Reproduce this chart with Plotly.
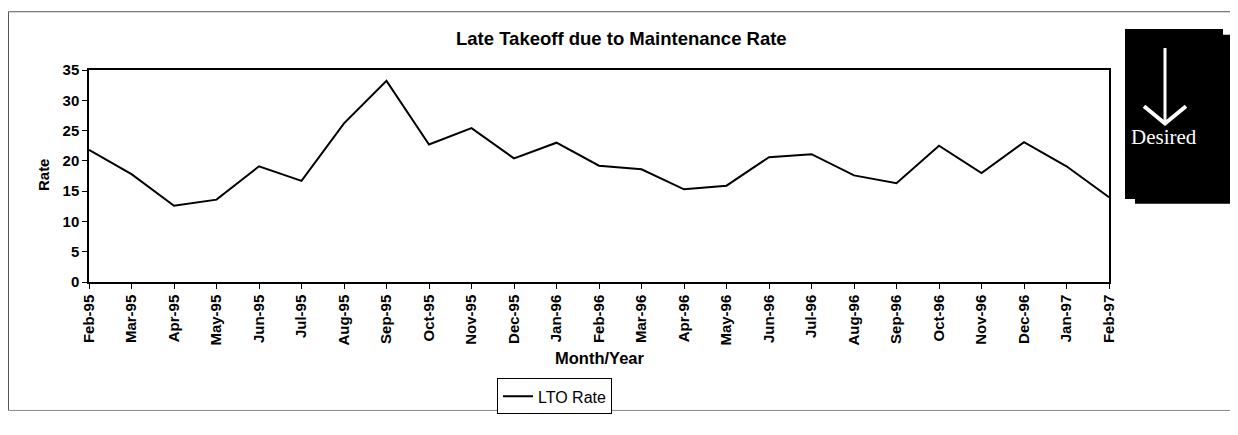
"""
Late Takeoff due to Maintenance Rate - line chart with a "Desired" direction marker.
"""
import plotly.graph_objects as go

months = [
    "Feb-95", "Mar-95", "Apr-95", "May-95", "Jun-95", "Jul-95", "Aug-95",
    "Sep-95", "Oct-95", "Nov-95", "Dec-95", "Jan-96", "Feb-96", "Mar-96",
    "Apr-96", "May-96", "Jun-96", "Jul-96", "Aug-96", "Sep-96", "Oct-96",
    "Nov-96", "Dec-96", "Jan-97", "Feb-97",
]
lto_rate = [
    21.8, 17.8, 12.6, 13.6, 19.1, 16.7, 26.2, 33.2, 22.7, 25.4, 20.4, 23.0,
    19.2, 18.6, 15.3, 15.9, 20.6, 21.1, 17.6, 16.3, 22.5, 18.0, 23.1, 19.1, 14.0,
]
y_ticks = [0, 5, 10, 15, 20, 25, 30, 35]

# the page body has an 8px margin on every side; keep the figure inside the window
OFF = 8
W, H = 1238 - 2 * OFF, 435 - 2 * OFF
# plot area in page pixels
L, R, T, B = 89, 1109, 70, 292


def px(x):
    # page pixel -> paper x
    return (x - L) / (R - L)


def py(y):
    # page pixel -> paper y
    return (B - y) / (B - T)


fig = go.Figure(
    go.Scatter(
        x=months,
        y=lto_rate,
        mode="lines",
        name="LTO Rate",
        line=dict(color="black", width=2),
    )
)

font = "Liberation Sans, Arial, sans-serif"
shapes = [
    # outer chart border
    dict(type="line", xref="paper", yref="paper", x0=px(8.5), x1=px(1230), y0=py(9), y1=py(9),
         line=dict(color="#555", width=1)),
    dict(type="line", xref="paper", yref="paper", x0=px(8.5), x1=px(8.5), y0=py(9), y1=py(426.5),
         line=dict(color="#555", width=1)),
    dict(type="line", xref="paper", yref="paper", x0=px(8.5), x1=px(1230), y0=py(426.5), y1=py(426.5),
         line=dict(color="#888", width=1)),
    # "Desired" black panel
    dict(type="rect", xref="paper", yref="paper", x0=px(1135), x1=px(1230), y0=py(33), y1=py(210),
         fillcolor="black", line=dict(width=0)),
    dict(type="rect", xref="paper", yref="paper", x0=px(1125), x1=px(1223), y0=py(27), y1=py(205),
         fillcolor="black", line=dict(width=0)),
    # arrow
    dict(type="line", xref="paper", yref="paper", x0=px(1165), x1=px(1165), y0=py(47), y1=py(125),
         line=dict(color="white", width=3)),
    dict(type="path", xref="paper", yref="paper",
         path=f"M {px(1144)} {py(108)} L {px(1165)} {py(126)} L {px(1186)} {py(108)}",
         line=dict(color="white", width=4)),
]

annotations = [
    dict(text="<b>Late Takeoff due to Maintenance Rate</b>", xref="paper", yref="paper",
         x=px(621), y=py(37), xanchor="center", yanchor="middle", showarrow=False,
         font=dict(family=font, size=18.5, color="black")),
    dict(text="<b>Month/Year</b>", xref="paper", yref="paper",
         x=px(600), y=py(372), xanchor="center", yanchor="middle", showarrow=False,
         font=dict(family=font, size=16.5, color="black")),
    dict(text="<b>Rate</b>", xref="paper", yref="paper", textangle=-90,
         x=px(43), y=py(180), xanchor="center", yanchor="middle", showarrow=False,
         font=dict(family=font, size=15, color="black")),
    dict(text="Desired", xref="paper", yref="paper",
         x=px(1164), y=py(140), xanchor="center", yanchor="middle", showarrow=False,
         font=dict(family="Liberation Serif, Times New Roman, serif", size=21, color="white")),
]

fig.update_layout(
    width=W,
    height=H,
    margin=dict(l=L - OFF, r=W - (R - OFF), t=T - OFF, b=H - (B - OFF), pad=0),
    paper_bgcolor="white",
    plot_bgcolor="white",
    font=dict(family=font, size=13, color="black"),
    showlegend=True,
    legend=dict(
        x=px(497), y=py(393), xanchor="left", yanchor="top",
        bordercolor="black", borderwidth=1, bgcolor="white",
        font=dict(family=font, size=16, color="black"),
    ),
    shapes=shapes,
    annotations=annotations,
)
fig.update_xaxes(
    type="category",
    range=[0, len(months) - 1],
    tickangle=-90,
    ticks="outside",
    ticklen=5,
    tickcolor="black",
    showline=True,
    linecolor="black",
    linewidth=1.5,
    mirror=True,
    showgrid=False,
    zeroline=False,
    tickfont=dict(family=font, size=15, color="black", weight="bold"),
)
fig.update_yaxes(
    range=[0, 35],
    tickvals=y_ticks,
    ticks="outside",
    ticklen=5,
    tickcolor="black",
    showline=True,
    linecolor="black",
    linewidth=1.5,
    mirror=True,
    showgrid=False,
    zeroline=False,
    tickfont=dict(family=font, size=15, color="black", weight="bold"),
)

fig.write_html("out.html")
